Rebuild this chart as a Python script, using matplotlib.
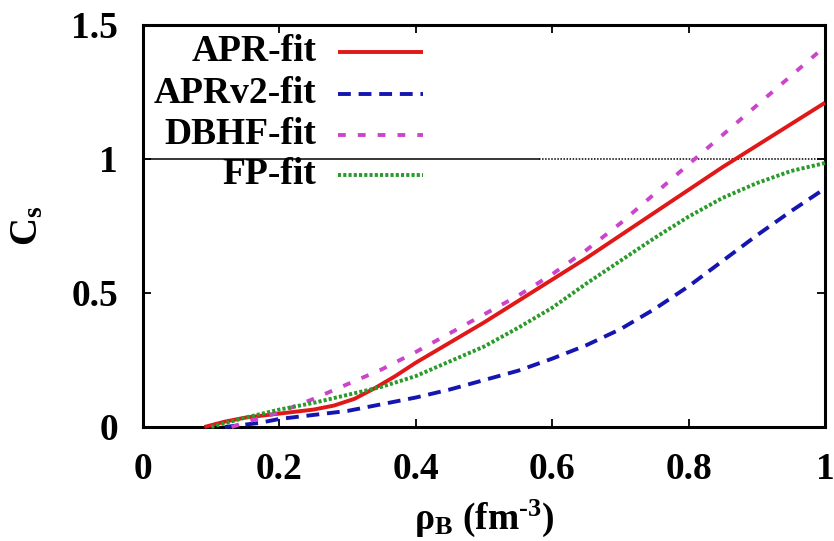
import matplotlib
matplotlib.use("Agg")
import matplotlib.pyplot as plt

plt.rcParams['font.family'] = ['Liberation Serif', 'DejaVu Serif']
plt.rcParams['font.weight'] = 'bold'
plt.rcParams['axes.labelweight'] = 'bold'
plt.rcParams['mathtext.fontset'] = 'custom'
plt.rcParams['mathtext.rm'] = 'Liberation Serif:bold'
plt.rcParams['mathtext.it'] = 'Liberation Serif:bold'
plt.rcParams['mathtext.bf'] = 'Liberation Serif:bold'

# ---- data ----
apr_x = [0.09, 0.12, 0.15, 0.20, 0.25, 0.28, 0.31, 0.34, 0.37, 0.40, 0.45, 0.50, 0.55,
         0.60, 0.65, 0.70, 0.75, 0.80, 0.85, 0.90, 0.95, 1.00]
apr_y = [0.0, 0.02, 0.035, 0.05, 0.065, 0.08, 0.105, 0.145, 0.19, 0.24, 0.315, 0.39, 0.47,
         0.55, 0.63, 0.715, 0.80, 0.885, 0.97, 1.05, 1.13, 1.21]

aprv2_x = [0.12, 0.17, 0.20, 0.25, 0.30, 0.35, 0.40, 0.45, 0.50, 0.55, 0.60, 0.65, 0.70,
           0.75, 0.80, 0.85, 0.90, 0.95, 1.00]
aprv2_y = [0.0, 0.015, 0.03, 0.045, 0.06, 0.085, 0.11, 0.14, 0.175, 0.21, 0.255, 0.305, 0.365,
           0.44, 0.525, 0.62, 0.715, 0.805, 0.89]

dbhf_x = [0.13, 0.16, 0.20, 0.25, 0.30, 0.35, 0.40, 0.45, 0.50, 0.55, 0.60, 0.65, 0.70,
          0.75, 0.80, 0.85, 0.90, 0.95, 1.00]
dbhf_y = [0.0, 0.025, 0.055, 0.105, 0.16, 0.215, 0.28, 0.35, 0.42, 0.49, 0.57, 0.66, 0.76,
          0.87, 0.98, 1.09, 1.20, 1.31, 1.42]

fp_x = [0.10, 0.15, 0.20, 0.25, 0.30, 0.35, 0.40, 0.45, 0.50, 0.55, 0.60, 0.65, 0.70,
        0.75, 0.80, 0.85, 0.90, 0.95, 1.00]
fp_y = [0.0, 0.035, 0.065, 0.09, 0.12, 0.15, 0.19, 0.245, 0.30, 0.37, 0.445, 0.535, 0.62,
        0.705, 0.785, 0.855, 0.91, 0.955, 0.985]

labels = ['APR-fit', 'APRv2-fit', 'DBHF-fit', 'FP-fit']
xticks = [0, 0.2, 0.4, 0.6, 0.8, 1.0]
xticklabels = ['0', '0.2', '0.4', '0.6', '0.8', '1']
yticks = [0, 0.5, 1.0, 1.5]
yticklabels = ['0', '0.5', '1', '1.5']
ref_level = 1.0
ref_split = 0.58

# ---- styles ----
colors = ['#e01818', '#1515b0', '#cc44cc', '#2a9a2a']
styles = [dict(linestyle='-'),
          dict(linestyle=(0, (3.3, 2.0))),
          dict(linestyle=(0, (2.0, 3.1))),
          dict(linestyle=(0, (0.8, 0.55)))]
lw = 2.8
fs = 27

fig = plt.figure(figsize=(8.34, 5.41), dpi=100)
ax = fig.add_axes([143/834, 1-427/541, (825-143)/834, (427-25)/541])

# reference line at cs=1
ax.plot([0, ref_split], [ref_level, ref_level], color='black', lw=1.1, zorder=1)
ax.plot([ref_split, 1.0], [ref_level, ref_level], color='black', lw=1.1,
        linestyle=(0, (1, 1)), zorder=1)

series = [(apr_x, apr_y), (aprv2_x, aprv2_y), (dbhf_x, dbhf_y), (fp_x, fp_y)]
for (xs, ys), c, st in zip(series, colors, styles):
    ax.plot(xs, ys, color=c, lw=lw, **st, zorder=3, solid_capstyle='butt',
            dash_capstyle='butt', clip_on=False)

ax.set_xlim(0, 1)
ax.set_ylim(0, 1.5)
ax.set_xticks(xticks)
ax.set_xticklabels(xticklabels)
ax.set_yticks(yticks)
ax.set_yticklabels(yticklabels)
ax.tick_params(direction='in', length=6, width=1.3, top=True, right=True,
               labelsize=fs)
ax.tick_params(axis='x', pad=18)
ax.tick_params(axis='y', pad=18)
for s in ax.spines.values():
    s.set_linewidth(2.2)

ax.set_xlabel('ρ$_\\mathrm{B}$ (fm$^{\u2010 3}$)', fontsize=fs, fontweight='bold',
              labelpad=8)
ax.set_ylabel('C$_\\mathrm{s}$', fontsize=fs + 1, fontweight='bold', labelpad=18)

# manual key (right-aligned text, sample line to the right)
key_y = [0.933, 0.829, 0.727, 0.627]
for lab, c, st, ky in zip(labels, colors, styles, key_y):
    ax.text(0.254, ky, lab, transform=ax.transAxes, ha='right', va='center',
            fontsize=fs, fontweight='bold')
    ax.plot([0.286, 0.41], [ky, ky], transform=ax.transAxes, color=c, lw=lw,
            **st, solid_capstyle='butt', dash_capstyle='butt')

fig.savefig('out.png', dpi=100)
